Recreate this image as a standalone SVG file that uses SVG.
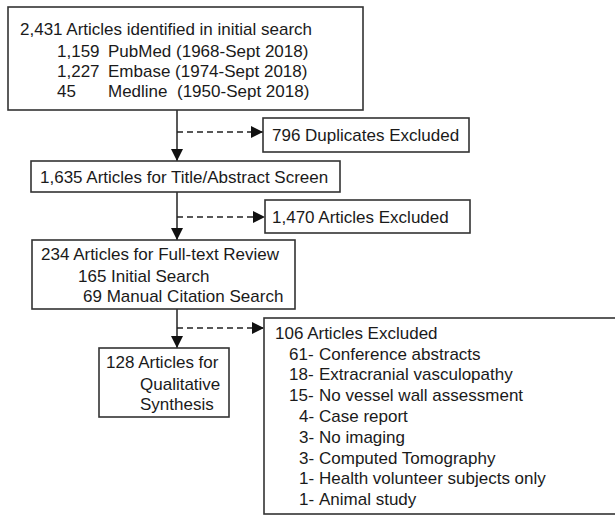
<svg xmlns="http://www.w3.org/2000/svg" width="615" height="516" viewBox="0 0 615 516">
<defs>
<style>
.box{fill:#fff;stroke:#333;stroke-width:1.6}
.t{font-family:"Liberation Sans",Arial,sans-serif;font-size:17px;fill:#1a1a1a}
.solid{stroke:#222;stroke-width:1.5;fill:none}
.dash{stroke:#222;stroke-width:1.5;fill:none;stroke-dasharray:6,4}
</style>
<marker id="ah" viewBox="0 0 12 12" refX="12" refY="6" markerWidth="12" markerHeight="12" markerUnits="userSpaceOnUse" orient="auto">
<path d="M0,0 L12,6 L0,12 Z" fill="#111"/>
</marker>
</defs>
<rect width="615" height="516" fill="#fff"/>
<g id="connectors">
<line class="solid" x1="177" y1="110" x2="177" y2="161" marker-end="url(#ah)"/>
<line class="solid" x1="177" y1="192" x2="177" y2="240" marker-end="url(#ah)"/>
<line class="solid" x1="177" y1="309" x2="177" y2="348" marker-end="url(#ah)"/>
<line class="dash" x1="177" y1="132" x2="263" y2="132" marker-end="url(#ah)"/>
<line class="dash" x1="177" y1="217" x2="265" y2="217" marker-end="url(#ah)"/>
<line class="dash" x1="177" y1="328" x2="264" y2="328" marker-end="url(#ah)"/>
</g>
<g id="identified">
<rect class="box" x="8" y="7" width="355" height="103"/>
<text class="t" x="20" y="35">2,431 Articles identified in initial search</text>
<text class="t" y="57"><tspan x="57">1,159</tspan><tspan x="108">PubMed (1968-Sept 2018)</tspan></text>
<text class="t" y="77"><tspan x="57">1,227</tspan><tspan x="108">Embase (1974-Sept 2018)</tspan></text>
<text class="t" y="97"><tspan x="57">45</tspan><tspan x="108">Medline</tspan><tspan x="177">(1950-Sept 2018)</tspan></text>
</g>
<g id="duplicates">
<rect class="box" x="263" y="118" width="206" height="34"/>
<text class="t" x="272" y="141">796 Duplicates Excluded</text>
</g>
<g id="screen">
<rect class="box" x="31" y="161" width="309" height="31"/>
<text class="t" x="40" y="183">1,635 Articles for Title/Abstract Screen</text>
</g>
<g id="excluded1">
<rect class="box" x="265" y="200" width="205" height="33"/>
<text class="t" x="272" y="223">1,470 Articles Excluded</text>
</g>
<g id="fulltext">
<rect class="box" x="32" y="240" width="263" height="69"/>
<text class="t" x="41" y="260">234 Articles for Full-text Review</text>
<text class="t" x="78" y="282">165 Initial Search</text>
<text class="t" x="83" y="302">69 Manual Citation Search</text>
</g>
<g id="qualitative">
<rect class="box" x="99" y="348" width="130" height="69"/>
<text class="t" x="106" y="368">128 Articles for</text>
<text class="t" x="140" y="390">Qualitative</text>
<text class="t" x="140" y="410">Synthesis</text>
</g>
<g id="excluded2">
<rect class="box" x="264" y="318" width="360" height="196"/>
<text class="t" x="275" y="339">106 Articles Excluded</text>
<text class="t" y="360"><tspan x="289">61-</tspan><tspan x="319">Conference abstracts</tspan></text>
<text class="t" y="380"><tspan x="289">18-</tspan><tspan x="319">Extracranial vasculopathy</tspan></text>
<text class="t" y="401"><tspan x="289">15-</tspan><tspan x="319">No vessel wall assessment</tspan></text>
<text class="t" y="422"><tspan x="299">4-</tspan><tspan x="319">Case report</tspan></text>
<text class="t" y="443"><tspan x="299">3-</tspan><tspan x="319">No imaging</tspan></text>
<text class="t" y="464"><tspan x="299">3-</tspan><tspan x="319">Computed Tomography</tspan></text>
<text class="t" y="484"><tspan x="299">1-</tspan><tspan x="319">Health volunteer subjects only</tspan></text>
<text class="t" y="505"><tspan x="299">1-</tspan><tspan x="319">Animal study</tspan></text>
</g>
</svg>
